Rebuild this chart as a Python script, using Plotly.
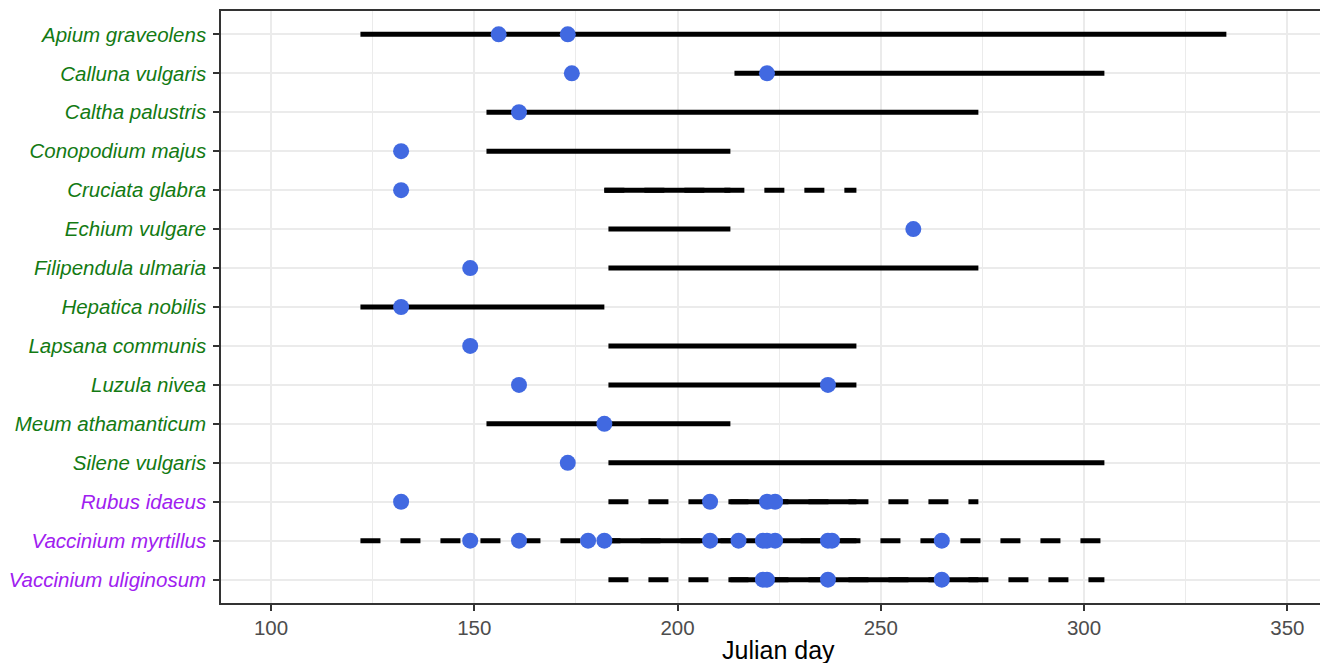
import plotly.graph_objects as go

# ---- data -------------------------------------------------------------
species = [
    "Apium graveolens", "Calluna vulgaris", "Caltha palustris",
    "Conopodium majus", "Cruciata glabra", "Echium vulgare",
    "Filipendula ulmaria", "Hepatica nobilis", "Lapsana communis",
    "Luzula nivea", "Meum athamanticum", "Silene vulgaris",
    "Rubus idaeus", "Vaccinium myrtillus", "Vaccinium uliginosum",
]
label_group = ["herb"] * 12 + ["berry"] * 3

# solid flowering periods (start, end) in Julian day
solid_start = [122, 214, 153, 153, 182, 183, 183, 122, 183, 183, 153, 183, 213, 183, 213]
solid_end   = [335, 305, 274, 213, 213, 213, 274, 182, 244, 244, 213, 305, 244, 244, 274]

# dashed (extended) periods
dashed_species = ["Cruciata glabra", "Rubus idaeus", "Vaccinium myrtillus", "Vaccinium uliginosum"]
dashed_start = [182, 183, 122, 183]
dashed_end   = [244, 274, 305, 305]

# observation days
obs = {
    "Apium graveolens": [156, 173],
    "Calluna vulgaris": [174, 222],
    "Caltha palustris": [161],
    "Conopodium majus": [132],
    "Cruciata glabra": [132],
    "Echium vulgare": [258],
    "Filipendula ulmaria": [149],
    "Hepatica nobilis": [132],
    "Lapsana communis": [149],
    "Luzula nivea": [161, 237],
    "Meum athamanticum": [182],
    "Silene vulgaris": [173],
    "Rubus idaeus": [132, 208, 222, 224],
    "Vaccinium myrtillus": [149, 161, 178, 182, 208, 215, 221, 222, 224, 237, 238, 265],
    "Vaccinium uliginosum": [221, 222, 237, 265],
}

x_ticks = [100, 150, 200, 250, 300, 350]

# ---- styles -----------------------------------------------------------
GREEN = "#137A13"
PURPLE = "#A020F0"
LINE_W = 5
FONT = "Liberation Sans, Arial, sans-serif"

fig = go.Figure()

# solid segments
sx, sy = [], []
for sp, a, b in zip(species, solid_start, solid_end):
    sx += [a, b, None]
    sy += [sp, sp, None]
fig.add_trace(go.Scatter(x=sx, y=sy, mode="lines",
                         line=dict(color="black", width=LINE_W),
                         hoverinfo="skip", showlegend=False))

# dashed segments (one trace each so dash phase starts at segment start)
for sp, a, b in zip(dashed_species, dashed_start, dashed_end):
    fig.add_trace(go.Scatter(x=[a, b], y=[sp, sp], mode="lines",
                             line=dict(color="black", width=LINE_W, dash="20px,20px"),
                             hoverinfo="skip", showlegend=False))

# points
px_, py_ = [], []
for sp in species:
    for d in obs[sp]:
        px_.append(d)
        py_.append(sp)
fig.add_trace(go.Scatter(x=px_, y=py_, mode="markers",
                         marker=dict(color="#4169E1", size=16, line=dict(width=0)),
                         showlegend=False))

ticktext = [
    f"<span style='color:{GREEN if g == 'herb' else PURPLE}'>{s}</span>"
    for s, g in zip(species, label_group)
]

fig.update_layout(
    width=1320, height=655,
    margin=dict(l=213, r=0, t=3, b=60, autoexpand=False),
    paper_bgcolor="white", plot_bgcolor="white",
    font=dict(family=FONT),
    xaxis=dict(
        range=[87.7, 360.0],
        tickmode="array", tickvals=x_ticks,
        ticktext=[str(v) for v in x_ticks],
        showgrid=True, gridcolor="#EBEBEB", gridwidth=2,
        minor=dict(dtick=25, tick0=75, showgrid=True, gridcolor="#EBEBEB",
                   gridwidth=1, ticks=""),
        showline=True, linecolor="#333333", linewidth=1.5, mirror=True,
        ticks="outside", ticklen=6, tickwidth=2, tickcolor="#333333",
        tickfont=dict(size=20.5, color="#4D4D4D", family=FONT),
        zeroline=False,
    ),
    yaxis=dict(
        type="category",
        categoryorder="array", categoryarray=list(reversed(species)),
        range=[-0.6, 14.6],
        tickmode="array", tickvals=species, ticktext=ticktext,
        showgrid=True, gridcolor="#EBEBEB", gridwidth=2,
        showline=True, linecolor="#333333", linewidth=1.5, mirror=False,
        ticks="outside", ticklen=6, tickwidth=2, tickcolor="#333333",
        ticklabelstandoff=3,
        tickfont=dict(size=20.5, family=FONT, style="italic"),
        zeroline=False,
    ),
    annotations=[dict(
        text="Julian day", xref="paper", yref="paper",
        x=0.504, y=-0.079, xanchor="center", yanchor="middle",
        showarrow=False, font=dict(size=25, color="black", family=FONT),
    )],
)

fig.write_html("out.html")
